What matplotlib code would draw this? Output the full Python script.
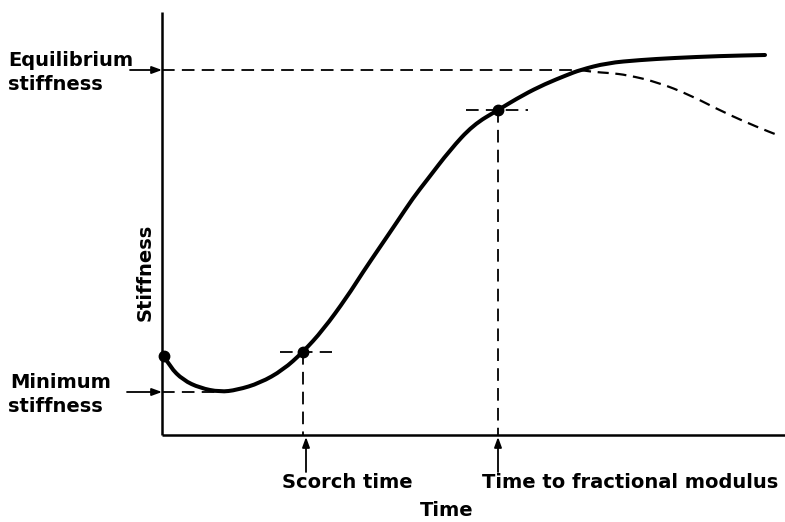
import matplotlib
matplotlib.use("Agg")
import matplotlib.pyplot as plt
from matplotlib.path import Path
from matplotlib.patches import PathPatch

# Cure curve: time (x) and stiffness (y), in drawing units (y grows upward)
H = 522
cure_t = [164, 170, 183, 200, 220, 237, 260, 283, 303, 323, 347, 363, 380, 397,
          413, 427, 450, 473, 498, 523, 545, 567, 580, 607, 640, 673, 720, 765]
cure_s = [356, 367, 380, 388, 392, 390, 383, 370, 352, 330, 297, 272, 247, 222,
          198, 180, 150, 125, 110, 95, 84, 75, 70, 63, 60, 58, 56, 55]

# Reversion branch (dashed)
rev_t = [580, 593, 610, 627, 657, 690, 723, 757, 780]
rev_s = [70, 72, 73, 75, 82, 95, 112, 127, 136]

# Marked points: start, scorch, fractional modulus
mark_t = [164, 303, 498]
mark_s = [356, 352, 110]

origin_t, origin_s = 162, 435
axis_top = 12
axis_right = 785
eq_level = 70
min_level = 392
min_t = 222
scorch_t = 303
frac_t = 498

fig = plt.figure(figsize=(7.85, 5.22), dpi=100)
ax = fig.add_axes([0, 0, 1, 1])
ax.set_xlim(0, 785)
ax.set_ylim(0, H)
ax.axis("off")


def Y(v):
    return H - v


def smooth_path(xs, ys):
    """Quadratic B-spline style path through the midpoints of the polyline."""
    pts = list(zip(xs, ys))
    verts = [pts[0]]
    codes = [Path.MOVETO]
    for i in range(1, len(pts) - 1):
        mid = ((pts[i][0] + pts[i + 1][0]) / 2, (pts[i][1] + pts[i + 1][1]) / 2)
        verts += [pts[i], mid]
        codes += [Path.CURVE3, Path.CURVE3]
    verts.append(pts[-1])
    codes.append(Path.LINETO)
    return Path(verts, codes)


cure_y = [Y(v) for v in cure_s]
rev_y = [Y(v) for v in rev_s]

# axes
ax.plot([origin_t, origin_t], [Y(origin_s), Y(axis_top)], color="black", lw=1.8, solid_capstyle="butt")
ax.plot([origin_t, axis_right], [Y(origin_s), Y(origin_s)], color="black", lw=1.8, solid_capstyle="butt")

dash = dict(color="black", lw=1.3, dashes=(7, 4))

# equilibrium and minimum levels
ax.plot([origin_t, 580], [Y(eq_level), Y(eq_level)], **dash)
ax.plot([origin_t, min_t], [Y(min_level), Y(min_level)], **dash)

# scorch and fractional modulus guides
ax.plot([scorch_t - 23, scorch_t + 29], [Y(352), Y(352)], **dash)
ax.plot([scorch_t, scorch_t], [Y(352), Y(origin_s)], **dash)
ax.plot([frac_t - 32, frac_t + 30], [Y(110), Y(110)], **dash)
ax.plot([frac_t, frac_t], [Y(110), Y(origin_s)], **dash)

# curves
ax.add_patch(PathPatch(smooth_path(cure_t, cure_y), fill=False, edgecolor="black",
                       lw=2.9, capstyle="round", joinstyle="round"))
ax.add_patch(PathPatch(smooth_path(rev_t, rev_y), fill=False, edgecolor="black",
                       lw=1.6, linestyle=(0, (5, 3))))
ax.plot(mark_t, [Y(v) for v in mark_s], "o", color="black", ms=7.5)

arrow = dict(arrowstyle="-|>,head_length=0.6,head_width=0.22", color="black", lw=1.3,
             shrinkA=0, shrinkB=0)
ax.annotate("", xy=(origin_t, Y(eq_level)), xytext=(130, Y(eq_level)), arrowprops=arrow)
ax.annotate("", xy=(origin_t, Y(min_level)), xytext=(127, Y(min_level)), arrowprops=arrow)
ax.annotate("", xy=(306, Y(437)), xytext=(306, Y(472)), arrowprops=arrow)
ax.annotate("", xy=(frac_t, Y(437)), xytext=(frac_t, Y(472)), arrowprops=arrow)

fs = 14
tk = dict(color="black", fontsize=fs, family="DejaVu Sans", fontweight="bold")
ax.text(8, Y(61), "Equilibrium", ha="left", va="center", **tk)
ax.text(8, Y(84), "stiffness", ha="left", va="center", **tk)
ax.text(10, Y(383), "Minimum", ha="left", va="center", **tk)
ax.text(8, Y(406), "stiffness", ha="left", va="center", **tk)
ax.text(145, Y(272), "Stiffness", ha="center", va="center", rotation=90, **tk)
ax.text(347, Y(483), "Scorch time", ha="center", va="center", **tk)
ax.text(630, Y(483), "Time to fractional modulus", ha="center", va="center", **tk)
ax.text(447, Y(510), "Time", ha="center", va="center", **tk)

fig.savefig("out.png", dpi=100)
